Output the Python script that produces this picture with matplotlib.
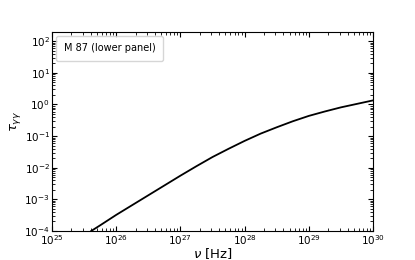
import matplotlib
matplotlib.use('Agg')
import matplotlib.pyplot as plt
import numpy as np

# optical depth curve (log10 values)
log_nu = [25.61, 25.75, 26.0, 26.25, 26.5, 26.75, 27.0, 27.25, 27.5, 27.75,
          28.0, 28.25, 28.5, 28.75, 29.0, 29.25, 29.5, 29.75, 30.0]
log_tau = [-4.0, -3.82, -3.49, -3.18, -2.87, -2.56, -2.25, -1.95, -1.66, -1.40,
           -1.15, -0.92, -0.72, -0.53, -0.36, -0.22, -0.09, 0.02, 0.13]
label = 'M 87 (lower panel)'

nu = 10 ** np.array(log_nu)
tau = 10 ** np.array(log_tau)

fig = plt.figure(figsize=(4.15, 2.6), dpi=100)
ax = fig.add_axes([0.1253, 0.1115, 0.7737, 0.7665])

ax.plot(nu, tau, color='black', lw=1.3)
ax.plot([], [], ' ', label=label)

ax.set_xscale('log')
ax.set_yscale('log')
ax.set_xlim(1e25, 1e30)
ax.set_ylim(1e-4, 200)

ax.tick_params(which='both', direction='in', top=True, right=True, labelsize=7.5, pad=1.5)
ax.tick_params(which='major', length=3.5)
ax.tick_params(which='minor', length=2)

ax.set_xlabel(r'$\nu$ [Hz]', fontsize=9.5)
ax.xaxis.set_label_coords(0.5, -0.075)
ax.set_ylabel(r'$\tau_{\gamma\gamma}$', fontsize=9.5)
ax.yaxis.set_label_coords(-0.09, 0.55)

ax.legend(loc='upper left', fontsize=7, handlelength=0, handletextpad=0,
          borderpad=0.8, borderaxespad=0.4)

fig.savefig('out.png', dpi=100)
